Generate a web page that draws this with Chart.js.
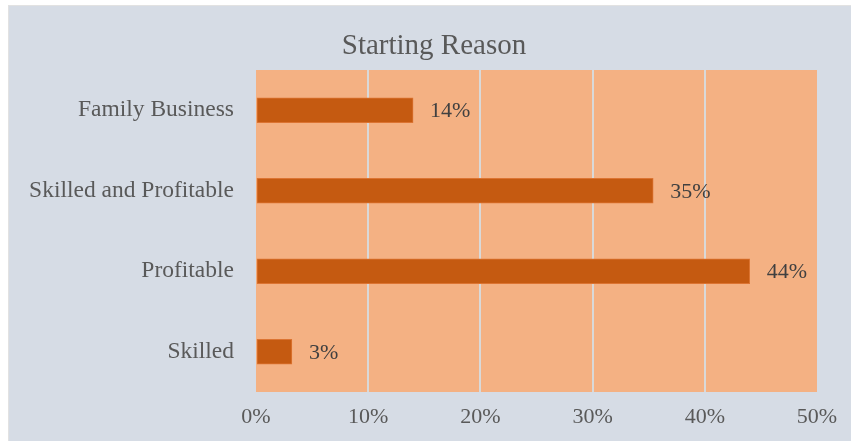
<!DOCTYPE html>
<html>
<head>
<meta charset="utf-8">
<script src="https://cdn.jsdelivr.net/npm/chart.js@4/dist/chart.umd.min.js"></script>
<style>
  html, body { margin: 0; padding: 0; background: #ffffff; }
  #wrap { position: absolute; left: 8px; top: 5px; width: 843px; height: 436px; background: #d6dce5; border-left: 1px solid #e2e2e2; border-top: 1px solid #e2e2e2; box-sizing: border-box; }
  canvas { display: block; }
</style>
</head>
<body>
<div id="wrap"><canvas id="c"></canvas></div>
<script>
const categories = ['Family Business', 'Skilled and Profitable', 'Profitable', 'Skilled'];
const values = [0.14, 0.354, 0.44, 0.032];
const valueLabels = ['14%', '35%', '44%', '3%'];
const tickValues = [0, 0.1, 0.2, 0.3, 0.4, 0.5];
const titleText = 'Starting Reason';

const SERIF = '"Liberation Serif", "Times New Roman", serif';

const plotBg = {
  id: 'plotBg',
  beforeDraw(chart) {
    const { ctx, chartArea: a } = chart;
    ctx.save();
    ctx.fillStyle = '#f4b183';
    ctx.fillRect(a.left, a.top, a.right - a.left, a.bottom - a.top);
    ctx.restore();
  }
};

const titlePlugin = {
  id: 'centeredTitle',
  afterDraw(chart) {
    const { ctx } = chart;
    ctx.save();
    ctx.font = '29px ' + SERIF;
    ctx.fillStyle = '#595959';
    ctx.textAlign = 'center';
    ctx.textBaseline = 'alphabetic';
    ctx.fillText(titleText, chart.width / 2 + 4, 48);
    ctx.restore();
  }
};

const valueLabelPlugin = {
  id: 'valueLabels',
  afterDatasetsDraw(chart) {
    const { ctx } = chart;
    const meta = chart.getDatasetMeta(0);
    ctx.save();
    ctx.font = '22px ' + SERIF;
    ctx.fillStyle = '#404040';
    ctx.textAlign = 'left';
    ctx.textBaseline = 'middle';
    meta.data.forEach((bar, i) => {
      ctx.fillText(valueLabels[i], bar.x + 17, bar.y + 1);
    });
    ctx.restore();
  }
};

new Chart(document.getElementById('c'), {
  type: 'bar',
  data: {
    labels: categories,
    datasets: [{
      data: values,
      backgroundColor: '#c55a11',
      borderColor: '#dc7432',
      borderWidth: 1,
      borderSkipped: false,
      barThickness: 25
    }]
  },
  options: {
    indexAxis: 'y',
    responsive: true,
    maintainAspectRatio: false,
    animation: false,
    layout: { padding: { left: 0, right: 34, top: 64, bottom: 0 } },
    plugins: {
      legend: { display: false },
      tooltip: { enabled: false },
      title: { display: false }
    },
    scales: {
      x: {
        min: 0,
        max: 0.5,
        afterBuildTicks(scale) { scale.ticks = tickValues.map(v => ({ value: v })); },
        afterFit(scale) { scale.height = 49; },
        border: { display: false },
        grid: {
          color: (ctx) => (ctx.tick && (ctx.tick.value === 0 || ctx.tick.value === 0.5)) ? 'rgba(0,0,0,0)' : '#d9d9d9',
          lineWidth: 2,
          drawTicks: false
        },
        ticks: {
          padding: 12,
          color: '#595959',
          font: { family: SERIF, size: 22 },
          callback: (v) => Math.round(v * 100) + '%'
        }
      },
      y: {
        afterFit(scale) { scale.width = 247; },
        border: { display: false },
        grid: { display: false },
        ticks: {
          padding: 14,
          color: '#595959',
          font: { family: SERIF, size: 23.5 }
        }
      }
    }
  },
  plugins: [plotBg, valueLabelPlugin, titlePlugin]
});
</script>
</body>
</html>
